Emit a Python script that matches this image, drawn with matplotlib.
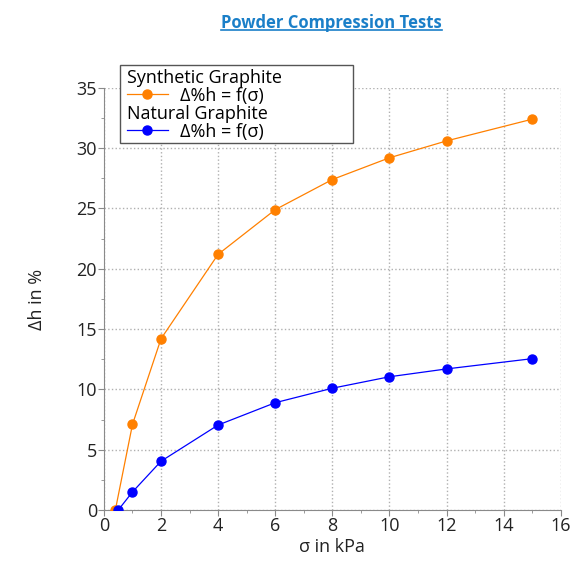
import matplotlib.pyplot as plt
from matplotlib.lines import Line2D
from matplotlib.patches import Rectangle
from matplotlib.ticker import MultipleLocator
from matplotlib.transforms import IdentityTransform

synth_x = [0.4, 1, 2, 4, 6, 8, 10, 12, 15]
synth_y = [0.0, 7.1, 14.2, 21.2, 24.9, 27.4, 29.2, 30.6, 32.4]
nat_x = [0.5, 1, 2, 4, 6, 8, 10, 12, 15]
nat_y = [0.0, 1.5, 4.05, 7.05, 8.9, 10.1, 11.05, 11.7, 12.55]

ORANGE = "#ff8000"
BLUE = "#0000ff"


def make_legend(ax, handle, heading, anchor, transform):
    leg = ax.legend(
        [handle], ["Δ%h = f(σ)"], title=heading, title_fontsize=13,
        alignment="left", loc="upper left", bbox_to_anchor=anchor,
        bbox_transform=transform, fontsize=13, frameon=False,
        handlelength=2.3, handletextpad=0.65, borderpad=0.25,
        borderaxespad=0,
    )
    leg._legend_box.sep = 0
    leg.set_zorder(6)
    return leg


def main():
    plt.rcParams["font.family"] = ["Open Sans", "DejaVu Sans"]
    fig = plt.figure(figsize=(5.71, 5.63), dpi=100)
    ax = fig.add_axes([0.182, 0.094, 0.8, 0.75])

    ax.plot(synth_x, synth_y, color=ORANGE, lw=0.9, marker="o", ms=6.5,
            zorder=3)
    ax.plot(nat_x, nat_y, color=BLUE, lw=0.9, marker="o", ms=6.5, zorder=4)

    ax.set_xlim(0, 16)
    ax.set_ylim(0, 35)
    ax.xaxis.set_major_locator(MultipleLocator(2))
    ax.xaxis.set_minor_locator(MultipleLocator(1))
    ax.yaxis.set_major_locator(MultipleLocator(5))
    ax.yaxis.set_minor_locator(MultipleLocator(2.5))
    ax.grid(True, which="major", ls=":", color="#b0b0b0", lw=1)
    for s in ["top", "right"]:
        ax.spines[s].set_visible(False)
    for s in ["left", "bottom"]:
        ax.spines[s].set_color("#8a8a8a")
    ax.tick_params(which="both", colors="#8a8a8a", labelcolor="#222222",
                   labelsize=13, length=4, pad=1)
    ax.tick_params(which="minor", length=2.5)
    ax.set_xlabel("σ in kPa", fontsize=13, labelpad=2, color="#222222")
    ax.set_ylabel("Δh in %", fontsize=13, labelpad=22, color="#222222")

    h1 = Line2D([], [], color=ORANGE, lw=0.9, marker="o", ms=6.5)
    h2 = Line2D([], [], color=BLUE, lw=0.9, marker="o", ms=6.5)
    leg1 = make_legend(ax, h1, "Synthetic Graphite", (0.04, 1.056),
                       ax.transAxes)
    ax.add_artist(leg1)

    title = fig.text(0.58, 0.96, "Powder Compression Tests", ha="center",
                     va="center", fontsize=12, fontweight="bold",
                     color="#1a7fc8")
    fig.canvas.draw()
    e1 = leg1.get_window_extent()
    leg2 = make_legend(ax, h2, "Natural Graphite", (e1.x0, e1.y0 + 9),
                       IdentityTransform())
    fig.canvas.draw()
    e2 = leg2.get_window_extent()

    # one shared frame round both legend blocks
    inv = fig.transFigure.inverted()
    fx0, fy0 = inv.transform((e1.x0 - 2, e2.y0 + 2))
    fx1, fy1 = inv.transform((e1.x0 + 231, e1.y1 - 1))
    frame = Rectangle((fx0, fy0), fx1 - fx0, fy1 - fy0,
                      transform=fig.transFigure, facecolor="white",
                      edgecolor="#555555", lw=1.0, zorder=5)
    ax.add_artist(frame)
    frame.set_clip_on(False)

    bb = title.get_window_extent().transformed(inv)
    fig.add_artist(Line2D([bb.x0, bb.x1], [bb.y0 + 0.002, bb.y0 + 0.002],
                          transform=fig.transFigure, color="#1a7fc8",
                          lw=1.2))

    fig.savefig("out.png", dpi=100)


if __name__ == "__main__":
    main()
